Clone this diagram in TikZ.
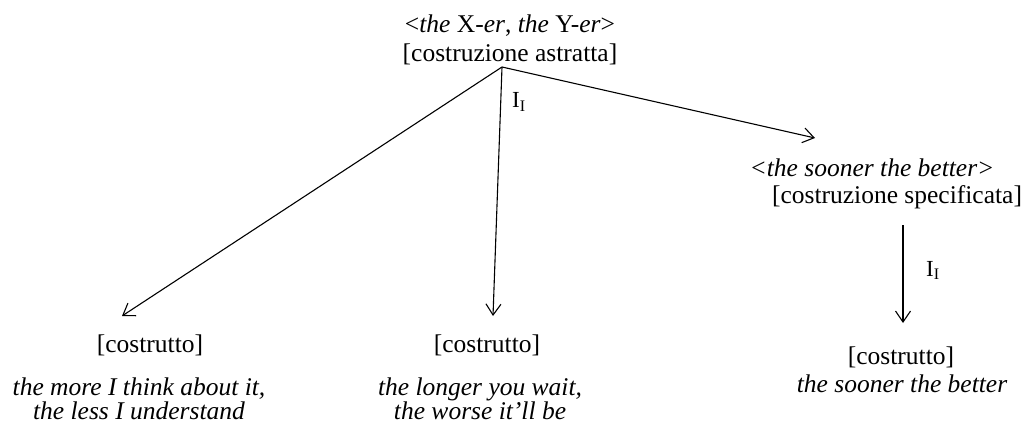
\documentclass[tikz,border=0pt]{standalone}
\usepackage{fontspec}
\setmainfont{Liberation Serif}
\usetikzlibrary{arrows.meta}
\begin{document}
\begin{tikzpicture}[x=1pt,y=-1pt,
  txt/.style={inner sep=0pt,anchor=base,font=\fontsize{25.5}{28}\selectfont},
  it/.style={txt,font=\fontsize{25.5}{28}\selectfont\itshape},
  lab/.style={inner sep=0pt,anchor=base west,font=\fontsize{23}{26}\selectfont},
  arr/.style={line width=1.1pt,-{Straight Barb[length=11pt,width=15pt,line width=1.1pt]}}]
\useasboundingbox (0,0) rectangle (1030,425);
\node[txt] (t1) at (510,33) {<\textit{the} X-\textit{er}, \textit{the} Y-\textit{er}>};
\node[txt] (t2) at (510,62) {[costruzione astratta]};
\coordinate (apex) at (502,67);
\coordinate (eL) at (122,316);
\coordinate (eM) at (493,316);
\coordinate (eR) at (815,138);
\draw[arr] (apex) -- (eL);
\draw[arr] (apex) -- (eM);
\draw[arr] (apex) -- (eR);
\node[lab] (l1) at (512,108) {I\textsubscript{I}};
\node[it] (s1) at (872,176) {<the sooner the better>};
\node[txt] (s2) at (897,203) {[costruzione specificata]};
\coordinate (vR1) at (903,225);
\coordinate (vR2) at (903,323);
\draw[arr] (vR1) -- (vR2);
\node[lab] (l2) at (926,276) {I\textsubscript{I}};
\node[txt] (cR) at (901,364) {[costrutto]};
\node[it] (eR1) at (902,392) {the sooner the better};
\node[txt] (cL) at (150,352) {[costrutto]};
\node[it] (eL1) at (139,395) {the more I think about it,};
\node[it] (eL2) at (139,419) {the less I understand};
\node[txt] (cM) at (487,352) {[costrutto]};
\node[it] (eM1) at (480,395) {the longer you wait,};
\node[it] (eM2) at (480,419) {the worse it’ll be};
\end{tikzpicture}
\end{document}
